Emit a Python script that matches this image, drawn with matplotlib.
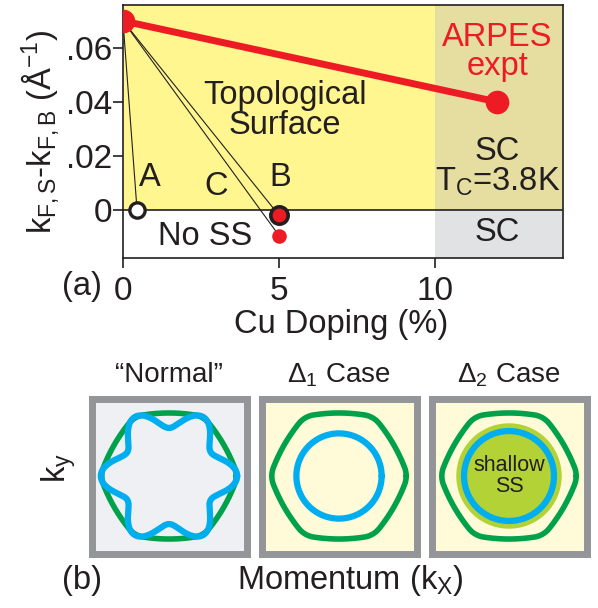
import numpy as np
import matplotlib.pyplot as plt

plt.rcParams['font.family'] = ['Liberation Sans', 'DejaVu Sans']
plt.rcParams['mathtext.fontset'] = 'custom'
plt.rcParams['mathtext.rm'] = 'Liberation Sans'
plt.rcParams['mathtext.it'] = 'Liberation Sans:italic'
plt.rcParams['mathtext.sf'] = 'Liberation Sans'

INK = '#231f20'
RED = '#ed1c24'
GREEN = '#00a14b'
BLUE = '#00aeef'

# ---- panel (a) ----
arpes_x = [0, 12]
arpes_y = [0.070, 0.040]
case_names = ['A', 'B', 'C']
case_x = [0.45, 5, 5]
case_y = [0.0, -0.002, -0.0095]
sc_onset = 10
x_max = 14.1
y_min, y_max = -0.0178, 0.0759
xticks = [0, 5, 10]
yticks = [0, 0.02, 0.04, 0.06]
ytick_labels = ['0', '.02', '.04', '.06']

# ---- panel (b) ----
panel_titles = ['\u201cNormal\u201d', 'Δ$_1$ Case', 'Δ$_2$ Case']
panel_faces = ['#eef0f3', '#fffad8', '#fffad8']
hex_radius, hex_round = 0.885, 0.6   # corner radius, 0 = circle, 1 = sharp hexagon
star_mean, star_warp = 0.75, 0.13
circle_radius = [None, 0.55, 0.58]
shallow_radius = 0.68

W, H = 598, 608
fig = plt.figure(figsize=(W / 100, H / 100), dpi=100)


def px(x0, y0, x1, y1):
    return [x0 / W, 1 - y1 / H, (x1 - x0) / W, (y1 - y0) / H]


ax = fig.add_axes(px(123, 5, 563, 258))
ax.set_xlim(0, x_max)
ax.set_ylim(y_min, y_max)
ax.fill_between([0, sc_onset], 0, y_max, color='#fff68f', lw=0)
ax.fill_between([sc_onset, x_max], 0, y_max, color='#e6dda0', lw=0)
ax.fill_between([sc_onset, x_max], y_min, 0, color='#e1e2e3', lw=0)
ax.axhline(0, color=INK, lw=1.2)

for x, y in zip(case_x, case_y):
    ax.plot([arpes_x[0], x], [arpes_y[0], y], color=INK, lw=0.8)
ax.plot(arpes_x, arpes_y, color=RED, lw=5, marker='o', ms=16, zorder=5)
ax.plot(case_x[0], case_y[0], 'o', ms=11, mfc='white', mec=INK, mew=2.4, zorder=6)
ax.plot(case_x[1], case_y[1], 'o', ms=12.5, mfc=RED, mec=INK, mew=2.6, zorder=6)
ax.plot(case_x[2], case_y[2], 'o', ms=10.5, color=RED, mew=0, zorder=6)

fs = 23.5
ax.text(0.87, 0.0119, 'A', fontsize=fs, color=INK, ha='center', va='center')
ax.text(5.03, 0.0119, 'B', fontsize=fs, color=INK, ha='center', va='center')
ax.text(3.0, 0.0085, 'C', fontsize=fs, color=INK, ha='center', va='center')
ax.text(5.2, 0.0367, 'Topological\nSurface', fontsize=fs, color=INK,
        ha='center', va='center', linespacing=0.95)
ax.text(12.0, 0.0585, 'ARPES\nexpt', fontsize=fs, color=RED,
        ha='center', va='center', linespacing=0.95)
ax.text(12.0, 0.0159, 'SC\nT$_\\mathrm{C}$=3.8K', fontsize=fs, color=INK,
        ha='center', va='center', linespacing=0.95)
ax.text(12.0, -0.0085, 'SC', fontsize=fs, color=INK, ha='center', va='center')
ax.text(2.63, -0.0098, 'No SS', fontsize=fs, color=INK, ha='center', va='center')

ax.set_xticks(xticks)
ax.set_yticks(yticks)
ax.set_yticklabels(ytick_labels)
ax.tick_params(labelsize=24, colors=INK, length=7, width=1.2)
ax.tick_params(axis='x', pad=6)
ax.tick_params(axis='y', pad=1)
for s in ax.spines.values():
    s.set_color(INK)
    s.set_linewidth(1.2)

fig.text(40 / W, 1 - 132 / H,
         'k$_\\mathrm{F,S}$-k$_\\mathrm{F,B}$ (Å$^\\mathrm{-1}$)',
         fontsize=fs, color=INK, rotation=90, ha='center', va='center')
fig.text(82 / W, 1 - 287 / H, '(a)', fontsize=fs, color=INK, ha='center', va='center')
fig.text(341 / W, 1 - 325 / H, 'Cu Doping (%)', fontsize=fs, color=INK,
         ha='center', va='center')

# ---- panel (b): Fermi surface sketches ----
n = 1440
theta = np.linspace(0, 2 * np.pi, n, endpoint=False)
phi = np.abs((theta + np.pi / 6) % (np.pi / 3) - np.pi / 6)
hex_r = hex_radius * (np.cos(np.pi / 6) / np.cos(np.pi / 6 - phi)) ** hex_round
# round off the corners a little
k = 61
hex_r = np.convolve(np.concatenate([hex_r[-(k // 2):], hex_r, hex_r[:k // 2]]),
                    np.ones(k) / k, mode='valid')
theta = np.append(theta, theta[0])
hex_r = np.append(hex_r, hex_r[0])
star_r = star_mean + star_warp * np.cos(6 * theta)

line_kw = dict(solid_capstyle='round', solid_joinstyle='round')
lefts = [88, 258, 428]
for i, left in enumerate(lefts):
    b = fig.add_axes(px(left + 3.5, 398.5, left + 158.5, 553.5))
    b.set_xlim(-1, 1)
    b.set_ylim(-1, 1)
    b.set_facecolor(panel_faces[i])
    b.set_xticks([])
    b.set_yticks([])
    for s in b.spines.values():
        s.set_color('#939598')
        s.set_linewidth(5)
    b.plot(hex_r * np.cos(theta), hex_r * np.sin(theta), color=GREEN, lw=4, **line_kw)
    if i == 0:
        b.plot(star_r * np.cos(theta), star_r * np.sin(theta), color=BLUE, lw=4.5,
               **line_kw)
    else:
        if i == 2:
            b.fill(shallow_radius * np.cos(theta), shallow_radius * np.sin(theta),
                   color='#b2d235', lw=0)
            b.text(0, 0, 'shallow\nSS', fontsize=15.5, color=INK, ha='center',
                   va='center', linespacing=1.0)
        r = circle_radius[i]
        b.plot(r * np.cos(theta), r * np.sin(theta), color=BLUE, lw=4.5, **line_kw)
    fig.text((left + 81) / W, 1 - 375 / H, panel_titles[i], fontsize=20,
             color=INK, ha='center', va='center')

fig.text(59 / W, 1 - 468 / H, 'k$_\\mathrm{y}$', fontsize=fs, color=INK,
         rotation=90, ha='center', va='center')
fig.text(82 / W, 1 - 580 / H, '(b)', fontsize=fs, color=INK, ha='center', va='center')
fig.text(350 / W, 1 - 580 / H, 'Momentum (k$_\\mathrm{X}$)', fontsize=fs, color=INK,
         ha='center', va='center')

fig.savefig('out.png', dpi=100)
